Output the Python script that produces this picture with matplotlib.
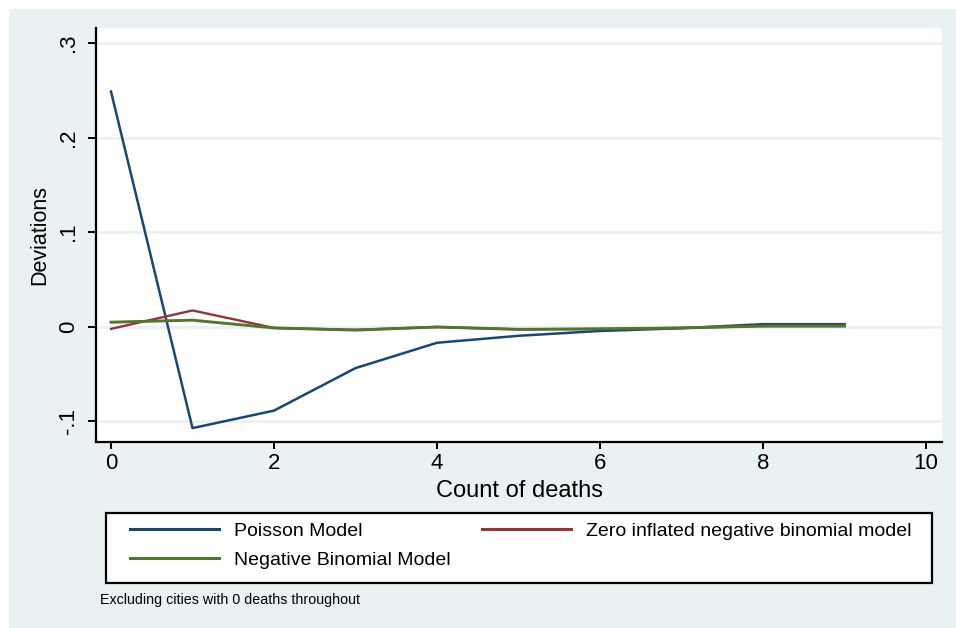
import matplotlib
matplotlib.use("Agg")
from matplotlib import pyplot as plt
from matplotlib.patches import Rectangle

plt.rcParams['font.family'] = ['Liberation Sans', 'DejaVu Sans']

# deviations by count of deaths
deaths = [0, 1, 2, 3, 4, 5, 6, 7, 8, 9]
poisson = [0.2487, -0.1075, -0.089, -0.044, -0.0172, -0.0098, -0.0047, -0.0018, 0.0025, 0.0025]
zinb = [-0.0025, 0.017, -0.0015, -0.0035, -0.0005, -0.003, -0.0025, -0.0015, 0.0005, 0.0005]
negbin = [0.0046, 0.0067, -0.0015, -0.0038, -0.0005, -0.003, -0.0025, -0.0015, 0.0005, 0.0005]

yticks = [-0.1, 0, 0.1, 0.2, 0.3]
ytick_labels = ['-.1', '0', '.1', '.2', '.3']
xticks = [0, 2, 4, 6, 8, 10]

bg = '#eaf1f3'
navy = '#1a476f'
maroon = '#90353b'
green = '#55752f'

W, H = 956, 628
fig = plt.figure(figsize=(9.56, 6.28), dpi=100)
fig.patch.set_facecolor('white')
fig.add_artist(Rectangle((9 / W, 0), 1 - 9 / W, (H - 9) / H,
                         transform=fig.transFigure, facecolor=bg, edgecolor='none', zorder=-10))

ax = fig.add_axes([96 / W, (H - 442) / H, (942 - 96) / W, (442 - 28) / H])
ax.set_facecolor('white')

l1, = ax.plot(deaths, poisson, color=navy, lw=1.8, label='Poisson Model', zorder=3)
l2, = ax.plot(deaths, zinb, color=maroon, lw=1.7, label='Zero inflated negative binomial model', zorder=3)
l3, = ax.plot(deaths, negbin, color=green, lw=2.1, label='Negative Binomial Model', zorder=4)

ax.set_xlim(-0.184, 10.196)
ax.set_ylim(-0.1222, 0.3159)
ax.set_yticks(yticks)
ax.set_yticklabels(ytick_labels, rotation=90, va='center')
ax.set_xticks(xticks)
ax.grid(axis='y', color=bg, lw=2)
ax.grid(axis='x', visible=False)
ax.set_axisbelow(True)

for s in ['top', 'right']:
    ax.spines[s].set_visible(False)
for s in ['left', 'bottom']:
    ax.spines[s].set_color('black')
    ax.spines[s].set_linewidth(1.6)

ax.tick_params(axis='y', length=6, width=1.4, labelsize=16, pad=6)
ax.tick_params(axis='x', length=5, width=1.4, labelsize=16, pad=3)

ax.set_xlabel('Count of deaths', fontsize=17, labelpad=4)
ax.set_ylabel('Deviations', fontsize=15.5, labelpad=6)

# legend frame drawn on its own, entries placed inside it
fig.add_artist(Rectangle((106 / W, (H - 583) / H), (932 - 106) / W, 70 / H,
                         transform=fig.transFigure, facecolor='white', edgecolor='black',
                         lw=1.6, zorder=5))
leg = fig.legend([l1, l3, l2], [l1.get_label(), l3.get_label(), l2.get_label()],
                 ncol=2, mode='expand', loc='upper left', borderaxespad=0,
                 bbox_to_anchor=(118 / W, (H - 583) / H, (923 - 118) / W, (583 - 511) / H),
                 fontsize=14, handlelength=4.6, handletextpad=0.75, labelspacing=0.55,
                 borderpad=0.6, frameon=False)
leg.set_zorder(6)
for h in leg.get_lines():
    h.set_linewidth(2.2)

fig.text(100 / W, (H - 600) / H, 'Excluding cities with 0 deaths throughout',
         fontsize=10.3, va='center', ha='left')

fig.savefig('out.png', dpi=100, facecolor=fig.get_facecolor())
